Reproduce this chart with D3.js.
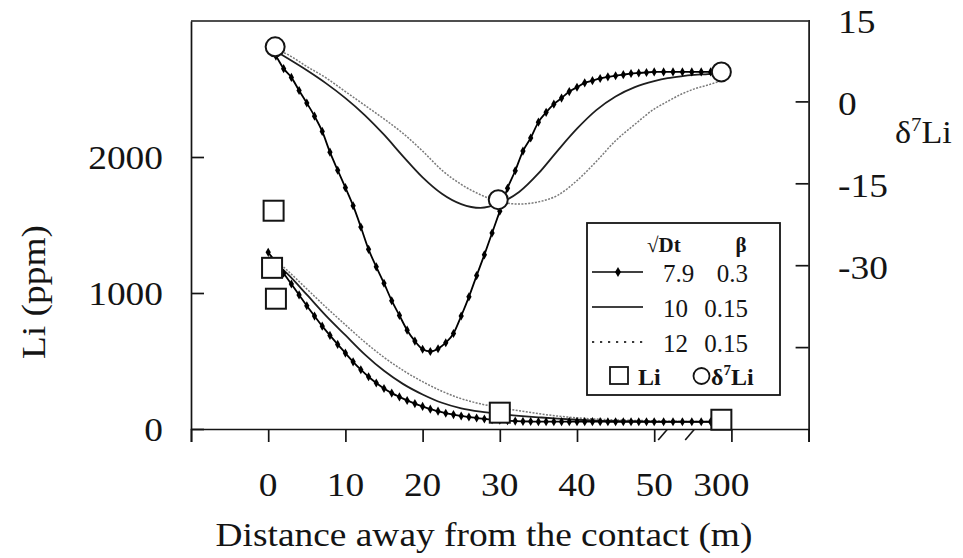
<!DOCTYPE html>
<html>
<head>
<meta charset="utf-8">
<script src="https://cdn.jsdelivr.net/npm/d3@7"></script>
<style>
  html, body { margin: 0; padding: 0; background: #fff; }
  svg { display: block; }
  text { font-family: "Liberation Serif", "Times New Roman", serif; fill: #141414; }
</style>
</head>
<body>
<svg id="chart" width="963" height="558"></svg>
<script>
// ---- Model profiles: distance (m) from the contact ----
// sqrt(Dt) = 7.9, beta = 0.3 (drawn with markers, 1 m steps)
const distMarked = [0,1,2,3,4,5,6,7,8,9,10,11,12,13,14,15,16,17,18,19,20,21,22,23,24,25,
  26,27,28,29,30,31,32,33,34,35,36,37,38,39,40,41,42,43,44,45,46,47,48,49,50,
  85,120,155,190,225,260,300];
const deltaMarked = [10.0,8.3,6.0,4.4,2.0,-0.3,-2.7,-5.5,-9.3,-12.6,-15.8,-19.1,-23.0,-27.1,-30.3,
  -33.3,-36.5,-39.2,-41.9,-43.9,-45.4,-45.8,-45.3,-44.2,-42.5,-39.3,-35.8,-31.9,-28.1,-24.1,
  -20.1,-15.9,-12.7,-9.1,-6.7,-3.8,-2.0,-0.5,0.6,1.8,2.6,3.4,3.8,4.2,4.5,4.7,4.9,5.1,5.2,5.3,5.4,
  5.4,5.4,5.4,5.4,5.4,5.4,5.4];
const liMarked = [1300,1222,1145,1066,986,906,830,756,688,622,558,494,436,384,338,298,264,236,210,187,
  166,146,131,116,106,96,88,81,74,68,64,61,58,56,55,54,54,54,54,54,
  54,54,54,54,53,53,53,53,53,53,53,
  53,53,53,53,53,53,53];

// sqrt(Dt) = 10 and 12, beta = 0.15 (smooth curves)
const distSmooth = [0,2.5,5,7.5,10,12.5,15,17.5,20,22.5,25,27.5,30,32.5,35,37.5,40,42.5,45,47.5,50,
  100,150,200,250,300];
const deltaSolid = [10.0,7.9,5.7,3.3,0.6,-2.5,-6.1,-10.1,-13.9,-16.9,-18.8,-19.5,-18.6,-16.6,-13.2,
  -9.0,-5.0,-1.6,0.9,2.6,3.7, 4.25,4.6,4.85,5.0,5.2];
const deltaDotted = [10.0,8.6,6.4,4.3,1.8,-0.7,-3.2,-5.9,-9.1,-12.6,-15.2,-17.1,-18.4,-18.8,-18.4,
  -17.2,-14.5,-11.0,-7.2,-4.2,-1.4, 0.0,1.3,2.3,3.0,3.8];
const liSolid = [1265,1140,988,832,690,549,428,330,254,193,152,127,110,97,86,76,68,62,59,57,55,
  54,54,54,54,54];
const liDotted = [1290,1165,1030,895,766,640,527,430,348,278,223,185,158,134,113,95,82,73,67,63,60,
  57,56,55,55,55];

// ---- Measured samples ----
const liSampleDist = [0.7, 0.5, 1.0, 30, 300];
const liSampleVal = [1605, 1185, 958, 120, 68];
const deltaSampleDist = [0.9, 29.8, 300];
const deltaSampleVal = [10.0, -18.0, 5.4];

// ---- Axis ticks and labels ----
const xGridTicks = [-10, 0, 10, 20, 30, 40, 50, 60, 70];
const xLabelDist = [0, 10, 20, 30, 40, 50, 300];
const xLabelText = ["0", "10", "20", "30", "40", "50", "300"];
const liTicks = [0, 1000, 2000];
const deltaTicks = [0, -15, -30, -45];
const deltaLabelVals = [15, 0, -15, -30];

// ---- Legend ----
const legendDt = ["7.9", "10", "12"];
const legendBeta = ["0.3", "0.15", "0.15"];

const svg = d3.select("#chart");
const INK = "#141414";

// plot frame in "plot units": 10 m per major tick, the far samples sit after a break
const xGrid = d3.scaleLinear().domain([-10, 70]).range([191, 808.6]);
const x = d3.scaleLinear()
  .domain([-10, 50, 300, 350])
  .range([xGrid(-10), xGrid(50), xGrid(58.7), xGrid(70)]);
const yLi = d3.scaleLinear().domain([0, 3000]).range([429, 21]);
const yD = d3.scaleLinear().domain([-60, 15]).range([429, 19.5]);

const frameL = xGrid(-10), frameR = xGrid(70), frameT = yLi(3000), frameB = yLi(0);

// text helper: serif text, slightly widened
function label(parent, txt, px, py, opt = {}) {
  const size = opt.size || 34, sx = opt.sx || 1.1, rot = opt.rotate || 0;
  const g = parent.append("g")
    .attr("transform", `translate(${px},${py}) rotate(${rot}) scale(${sx},1)`);
  const t = g.append("text")
    .attr("text-anchor", opt.anchor || "middle")
    .style("font-size", size + "px")
    .style("font-weight", opt.weight || "normal");
  if (txt != null) t.text(txt);
  return t;
}

// ---- axes ----
const axisStyle = g => {
  g.selectAll("path, line").attr("stroke", INK).attr("stroke-width", 1.7);
  g.selectAll("text").remove();
};

svg.append("g")
  .attr("transform", `translate(0,${frameB})`)
  .call(d3.axisBottom(xGrid).tickValues(xGridTicks).tickSizeInner(13).tickSizeOuter(13).tickFormat(""))
  .call(axisStyle);

svg.append("g")
  .attr("transform", `translate(${frameL},0)`)
  .call(d3.axisLeft(yLi).tickValues(liTicks).tickSizeInner(-13).tickSizeOuter(0).tickFormat(""))
  .call(axisStyle);

svg.append("g")
  .attr("transform", `translate(${frameR},0)`)
  .call(d3.axisRight(yD).tickValues(deltaTicks).tickSizeInner(-13).tickSizeOuter(0).tickFormat(""))
  .call(axisStyle);

// top edge of the frame
svg.append("line")
  .attr("x1", frameL).attr("x2", frameR).attr("y1", frameT).attr("y2", frameT)
  .attr("stroke", INK).attr("stroke-width", 1.7);

// break marks on the distance axis
[51.1, 54.6].forEach(u => {
  const cx = xGrid(u);
  svg.append("line")
    .attr("x1", cx - 4.5).attr("y1", frameB + 11)
    .attr("x2", cx + 4.5).attr("y2", frameB + 0.5)
    .attr("stroke", INK).attr("stroke-width", 1.6);
});

// ---- tick labels and titles ----
liTicks.forEach(v => label(svg, String(v), 163, yLi(v) + 11.5, { anchor: "end" }));
deltaLabelVals.forEach(v => label(svg, String(v), 838, yD(v) + 13.5, { anchor: "start" }));
xLabelDist.forEach((d, i) => label(svg, xLabelText[i], x(d), 496));

label(svg, "Distance away from the contact (m)", 484, 546);
label(svg, "Li (ppm)", 45, 292, { rotate: -90 });

const dTitle = label(svg, null, 895, 143, { anchor: "start", size: 31 });
dTitle.append("tspan").text("δ");
dTitle.append("tspan").attr("dy", -12).style("font-size", "19px").text("7");
dTitle.append("tspan").attr("dy", 12).text("Li");

// ---- curves ----
function curve(xs, ys, yScale) {
  return d3.line()
    .x((d, i) => x(xs[i]))
    .y((d, i) => yScale(ys[i]))
    .curve(d3.curveMonotoneX)(ys);
}

const curves = svg.append("g").attr("fill", "none");

// dotted (12, 0.15)
curves.append("path").attr("d", curve(distSmooth, liDotted, yLi))
  .attr("stroke", "#7a7a7a").attr("stroke-width", 1.5).attr("stroke-dasharray", "2,1.4");
curves.append("path").attr("d", curve(distSmooth, deltaDotted, yD))
  .attr("stroke", "#7a7a7a").attr("stroke-width", 1.5).attr("stroke-dasharray", "2,1.4");

// solid (10, 0.15)
curves.append("path").attr("d", curve(distSmooth, liSolid, yLi))
  .attr("stroke", "#1e1e1e").attr("stroke-width", 1.8);
curves.append("path").attr("d", curve(distSmooth, deltaSolid, yD))
  .attr("stroke", "#1e1e1e").attr("stroke-width", 1.8);

// marked (7.9, 0.3)
curves.append("path").attr("d", curve(distMarked, liMarked, yLi))
  .attr("stroke", "#000").attr("stroke-width", 1.8);
curves.append("path").attr("d", curve(distMarked, deltaMarked, yD))
  .attr("stroke", "#000").attr("stroke-width", 1.8);

const diamond = d3.symbol().type(d3.symbolDiamond).size(24);
[[liMarked, yLi], [deltaMarked, yD]].forEach(([vals, ys]) => {
  svg.append("g").selectAll("path")
    .data(vals)
    .join("path")
    .attr("transform", (v, i) => `translate(${x(distMarked[i])},${ys(v)})`)
    .attr("d", diamond)
    .attr("fill", "#000");
});

// ---- samples ----
const SQ = 20;
svg.append("g").selectAll("rect")
  .data(liSampleVal)
  .join("rect")
  .attr("x", (v, i) => x(liSampleDist[i]) - SQ / 2)
  .attr("y", v => yLi(v) - SQ / 2)
  .attr("width", SQ).attr("height", SQ)
  .attr("fill", "#fff").attr("stroke", INK).attr("stroke-width", 2);

svg.append("g").selectAll("circle")
  .data(deltaSampleVal)
  .join("circle")
  .attr("cx", (v, i) => x(deltaSampleDist[i]))
  .attr("cy", v => yD(v))
  .attr("r", 9.5)
  .attr("fill", "#fff").attr("stroke", INK).attr("stroke-width", 2);

// ---- legend ----
const lg = svg.append("g");
lg.append("rect")
  .attr("x", 587).attr("y", 223).attr("width", 193).attr("height", 172)
  .attr("fill", "#fff").attr("stroke", INK).attr("stroke-width", 1.8);

label(lg, "√Dt", 647, 252, { anchor: "start", size: 21, sx: 1.0, weight: "bold" });
label(lg, "β", 741, 252, { size: 21, sx: 1.0, weight: "bold" });

const rowY = [272, 307, 342];
rowY.forEach((ry, i) => {
  const ln = lg.append("line")
    .attr("x1", 592).attr("x2", 643).attr("y1", ry).attr("y2", ry)
    .attr("stroke", i === 2 ? "#3a3a3a" : "#000")
    .attr("stroke-width", i === 2 ? 2 : 1.7);
  if (i === 2) ln.attr("stroke-dasharray", "2.2,5.8");
  if (i === 0) {
    lg.append("path").attr("transform", `translate(618,${ry})`)
      .attr("d", d3.symbol().type(d3.symbolDiamond).size(30)).attr("fill", "#000");
  }
  label(lg, legendDt[i], 663, ry + 10, { anchor: "start", size: 25, sx: 1.0 });
  label(lg, legendBeta[i], 748, ry + 10, { anchor: "end", size: 25, sx: 1.0 });
});

lg.append("rect").attr("x", 610).attr("y", 367).attr("width", 18).attr("height", 17)
  .attr("fill", "#fff").attr("stroke", INK).attr("stroke-width", 1.8);
label(lg, "Li", 638, 385, { anchor: "start", size: 24, sx: 1.0, weight: "bold" });
lg.append("circle").attr("cx", 701.5).attr("cy", 376).attr("r", 8)
  .attr("fill", "#fff").attr("stroke", INK).attr("stroke-width", 1.8);
const lgD = label(lg, null, 711, 385, { anchor: "start", size: 24, sx: 1.0, weight: "bold" });
lgD.append("tspan").text("δ");
lgD.append("tspan").attr("dy", -10).style("font-size", "15px").text("7");
lgD.append("tspan").attr("dy", 10).text("Li");
</script>
</body>
</html>
